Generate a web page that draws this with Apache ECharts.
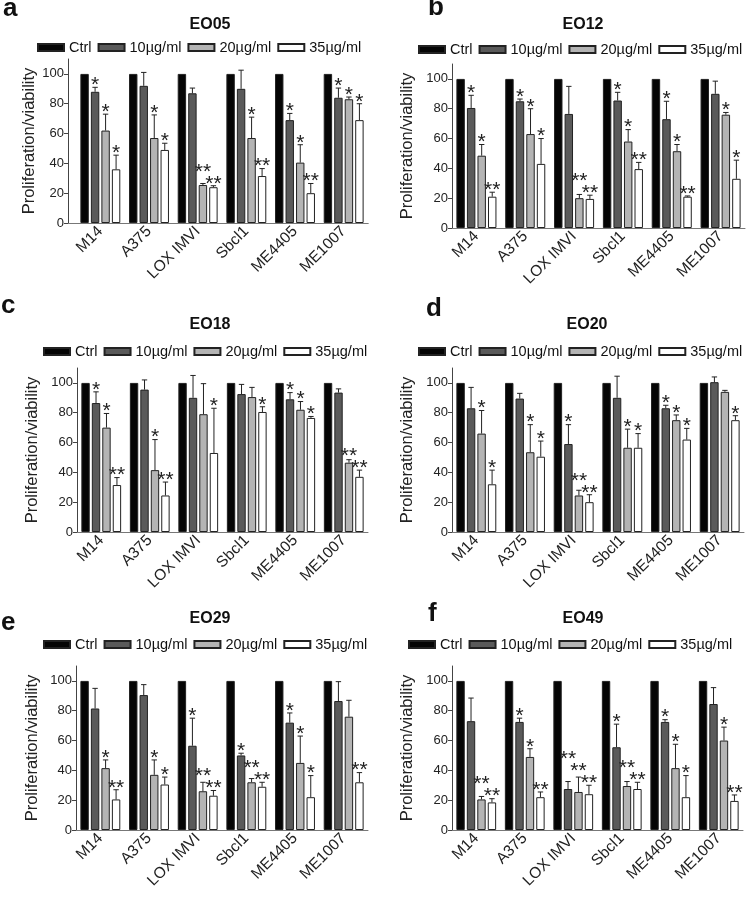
<!DOCTYPE html>
<html>
<head>
<meta charset="utf-8">
<script src="https://cdn.jsdelivr.net/npm/echarts@6/dist/echarts.min.js"></script>
<style>
  html, body { margin: 0; padding: 0; background: #fff; }
  #chart { width: 750px; height: 897px; }
</style>
</head>
<body>
<div id="chart"></div>
<script>
var categories = ['M14', 'A375', 'LOX IMVI', 'Sbcl1', 'ME4405', 'ME1007'];
var groups = ['Ctrl', '10µg/ml', '20µg/ml', '35µg/ml'];
var panelTitles = ['EO05', 'EO12', 'EO18', 'EO20', 'EO29', 'EO49'];
var panelLetters = ['a', 'b', 'c', 'd', 'e', 'f'];
var yTicks = [0, 20, 40, 60, 80, 100];

var ctrl = [100, 100, 100, 100, 100, 100];

// EO05
var eo05_10 = [88, 92, 87, 90, 69, 84];
var eo05_20 = [62, 57, 25.5, 57, 40.5, 83];
var eo05_35 = [36, 49, 24, 31.5, 20, 69];
var eo05_sd10 = [3, 9, 3.5, 12.5, 4.5, 6.5];
var eo05_sd20 = [11, 15.5, 1, 14, 12, 1.5];
var eo05_sd35 = [9.5, 4.5, 1, 5, 6.5, 11];
var eo05_star10 = ['*', '', '', '', '*', '*'];
var eo05_star20 = ['*', '*', '**', '*', '*', '*'];
var eo05_star35 = ['*', '*', '**', '**', '**', '*'];

// EO12
var eo12_10 = [80.5, 85, 76.5, 85.5, 73, 90];
var eo12_20 = [48.5, 63, 20, 58, 51.5, 76];
var eo12_35 = [21, 43, 19.5, 39.5, 21, 33];
var eo12_sd10 = [8.5, 1.5, 18.5, 5.5, 12, 8.5];
var eo12_sd20 = [7.5, 17, 2.5, 8, 4.5, 1.5];
var eo12_sd35 = [3, 17, 2.5, 4.5, 0.5, 12.5];
var eo12_star10 = ['*', '*', '', '*', '*', ''];
var eo12_star20 = ['*', '*', '**', '*', '*', '*'];
var eo12_star35 = ['**', '*', '**', '**', '**', '*'];

// EO18
var eo18_10 = [86.5, 95.5, 90, 92.5, 89, 93.5];
var eo18_20 = [70, 41.5, 79, 90.5, 82, 46.5];
var eo18_35 = [31.5, 24.5, 53, 80.5, 76.5, 37];
var eo18_sd10 = [7.5, 6.5, 15, 6.5, 4.5, 2.5];
var eo18_sd20 = [9.5, 20.5, 20.5, 6.5, 5.5, 2];
var eo18_sd35 = [5, 9, 30, 3.5, 1, 4.5];
var eo18_star10 = ['*', '', '', '', '*', ''];
var eo18_star20 = ['*', '*', '', '', '*', '**'];
var eo18_star35 = ['**', '**', '*', '*', '*', '**'];

// EO20
var eo20_10 = [83, 89.5, 59, 90, 83, 100.5];
var eo20_20 = [66, 53.5, 24.5, 56.5, 75, 94];
var eo20_35 = [32, 50.5, 20, 56.5, 62, 75];
var eo20_sd10 = [14, 3.5, 13, 14.5, 2, 3.5];
var eo20_sd20 = [15.5, 18.5, 3.5, 12.5, 3.5, 1];
var eo20_sd35 = [9.5, 10.5, 5, 9.5, 7.5, 3];
var eo20_star10 = ['', '', '*', '', '*', ''];
var eo20_star20 = ['*', '*', '**', '*', '*', ''];
var eo20_star35 = ['*', '*', '**', '*', '*', '*'];

// EO29
var eo29_10 = [81.5, 90.5, 56.5, 50, 72, 86.5];
var eo29_20 = [41.5, 37, 26, 32, 45, 76];
var eo29_35 = [20.5, 30.5, 23, 29, 22, 32];
var eo29_sd10 = [13.5, 7, 18.5, 1.5, 6.5, 13];
var eo29_sd20 = [5.5, 10, 6, 2.5, 18, 11];
var eo29_sd35 = [6.5, 5, 3.5, 3, 14.5, 6.5];
var eo29_star10 = ['', '', '*', '*', '*', ''];
var eo29_star20 = ['*', '*', '**', '**', '*', ''];
var eo29_star35 = ['**', '*', '**', '**', '*', '**'];

// EO49
var eo49_10 = [73, 72.5, 27.5, 55.5, 72.5, 84.5];
var eo49_20 = [20.5, 49, 25.5, 29.5, 41.5, 60];
var eo49_35 = [18.5, 22, 24, 27.5, 22, 19.5];
var eo49_sd10 = [15.5, 2.5, 5, 15.5, 1.5, 11];
var eo49_sd20 = [2, 5.5, 10, 3, 16, 9];
var eo49_sd35 = [2.5, 3.5, 6, 4.5, 14.5, 4];
var eo49_star10 = ['', '*', '**', '*', '*', ''];
var eo49_star20 = ['**', '*', '**', '**', '*', '*'];
var eo49_star35 = ['**', '**', '**', '**', '*', '**'];

var panels = [
    {means: [ctrl, eo05_10, eo05_20, eo05_35], sds: [null, eo05_sd10, eo05_sd20, eo05_sd35], stars: [null, eo05_star10, eo05_star20, eo05_star35]},
    {means: [ctrl, eo12_10, eo12_20, eo12_35], sds: [null, eo12_sd10, eo12_sd20, eo12_sd35], stars: [null, eo12_star10, eo12_star20, eo12_star35]},
    {means: [ctrl, eo18_10, eo18_20, eo18_35], sds: [null, eo18_sd10, eo18_sd20, eo18_sd35], stars: [null, eo18_star10, eo18_star20, eo18_star35]},
    {means: [ctrl, eo20_10, eo20_20, eo20_35], sds: [null, eo20_sd10, eo20_sd20, eo20_sd35], stars: [null, eo20_star10, eo20_star20, eo20_star35]},
    {means: [ctrl, eo29_10, eo29_20, eo29_35], sds: [null, eo29_sd10, eo29_sd20, eo29_sd35], stars: [null, eo29_star10, eo29_star20, eo29_star35]},
    {means: [ctrl, eo49_10, eo49_20, eo49_35], sds: [null, eo49_sd10, eo49_sd20, eo49_sd35], stars: [null, eo49_star10, eo49_star20, eo49_star35]}
];

// layout: [left, top, width, height] of each plot, plus legend / title / letter spots
var boxes = [[76, 59, 292, 164], [452, 64, 293, 164], [77, 368, 291, 164], [452, 368, 292, 164], [76, 666, 292, 164], [452, 666, 291, 164]];
var yOffsets = [8, 0, 0, 0, 0, 0];
var legendPos = [[37, 40], [418, 42], [43, 344], [418, 344], [43, 637], [408, 637]];
var titlePos = [[210, 17], [583, 17], [210, 317], [587, 317], [210, 611], [583, 611]];
var letterPos = [[3, -4], [428, -5], [1, 293], [426, 296], [1, 610], [428, 601]];

var FONT = 'Liberation Sans, Arial, sans-serif';
var barColors = ['#050505', '#5a5a5a', '#b4b4b4', '#ffffff'];
var CAT_GAP = 0.18, BAR_GAP = 0.25;
var STAR_LIFT = 12;

var makeErrRender = function(rows){
    // a star that would bump into the star of its right neighbour goes above it
    var starY = function(row, api){
        var y = api.coord([row.cat, row.top])[1] - 2;
        var nb = row.next;
        if (nb && nb.star && (nb.star.length > 1 || row.star.length > 1)) {
            y = Math.min(y, starY(nb, api) - STAR_LIFT);
        }
        return y;
    };
    return function(params, api){
        var r = rows[params.dataIndex];
        var base = api.coord([r.cat, r.val]);
        var top = api.coord([r.cat, r.top]);
        var band = api.size([1, 0])[0];
        var barW = band * (1 - CAT_GAP) / (4 + 3 * BAR_GAP);
        var x = base[0] + (r.g - 1.5) * barW * (1 + BAR_GAP);
        var cap = barW * 0.32;
        var style = {stroke: '#222', lineWidth: 1};
        var children = [
            {type: 'line', shape: {x1: x, y1: base[1], x2: x, y2: top[1]}, style: style},
            {type: 'line', shape: {x1: x - cap, y1: top[1], x2: x + cap, y2: top[1]}, style: style}
        ];
        if (r.star) {
            children.push({type: 'text', style: {x: x, y: starY(r, api), text: r.star, fontSize: 21, fontFamily: FONT, fill: '#222', align: 'center', verticalAlign: 'middle'}});
        }
        return {type: 'group', children: children};
    };
};

var option = {
    backgroundColor: '#fff',
    animation: false,
    title: [], legend: [], grid: [], xAxis: [], yAxis: [], series: []
};

for (var p = 0; p < 6; p++) {
    var b = boxes[p];
    var panel = panels[p];
    option.grid.push({left: b[0], top: b[1], width: b[2], height: b[3]});
    option.xAxis.push({
        type: 'category', gridIndex: p, data: categories,
        axisLine: {lineStyle: {color: '#777', width: 1}},
        axisTick: {alignWithLabel: true, length: 5, lineStyle: {color: '#777'}},
        axisLabel: {rotate: 45, interval: 0, fontSize: 15.5, color: '#222', fontFamily: FONT, margin: 6}
    });
    option.yAxis.push({
        type: 'value', gridIndex: p, min: 0, max: 110, interval: 20, offset: yOffsets[p],
        name: 'Proliferation/viability', nameLocation: 'middle',
        nameGap: p % 2 === 0 ? 27 + (b[0] - yOffsets[p] - 68) : 36,
        nameTextStyle: {fontSize: 16.5, color: '#222', fontFamily: FONT},
        splitLine: {show: false},
        axisLine: {show: true, lineStyle: {color: '#444', width: 1}},
        axisTick: {show: true, length: 4, customValues: yTicks, lineStyle: {color: '#444'}},
        axisLabel: {customValues: yTicks, fontSize: 13, color: '#222', fontFamily: FONT, margin: 4}
    });
    for (var g = 0; g < 4; g++) {
        option.series.push({
            type: 'bar', name: groups[g], xAxisIndex: p, yAxisIndex: p,
            data: panel.means[g], barCategoryGap: (CAT_GAP * 100) + '%', barGap: (BAR_GAP * 100) + '%',
            itemStyle: {color: barColors[g], borderColor: '#222', borderWidth: 1}
        });
    }
    var rows = [];
    var byCat = [];
    for (var g2 = 1; g2 < 4; g2++) {
        for (var c = 0; c < categories.length; c++) {
            var v = panel.means[g2][c];
            var row = {cat: c, g: g2, val: v, top: v + panel.sds[g2][c], star: panel.stars[g2][c]};
            rows.push(row);
            byCat[c] = byCat[c] || [];
            byCat[c][g2] = row;
        }
    }
    byCat.forEach(function(list){
        list[1].next = list[2];
        list[2].next = list[3];
    });
    option.series.push({
        type: 'custom', name: 'err' + p, xAxisIndex: p, yAxisIndex: p, z: 5,
        renderItem: makeErrRender(rows),
        encode: {x: 0, y: [1, 2]},
        data: rows.map(function(r){ return [r.cat, r.val, r.top]; })
    });
    option.legend.push({
        data: groups, left: legendPos[p][0], top: legendPos[p][1], icon: 'rect', padding: 0,
        itemWidth: 26, itemHeight: 7, itemGap: 6, selectedMode: false,
        textStyle: {fontSize: 14.5, color: '#111', fontFamily: FONT}
    });
    option.title.push({
        text: panelTitles[p], left: titlePos[p][0], top: titlePos[p][1], textAlign: 'center', padding: 0,
        textStyle: {fontSize: 16, fontWeight: 'bold', color: '#111', fontFamily: FONT}
    });
    option.title.push({
        text: panelLetters[p], left: letterPos[p][0], top: letterPos[p][1], padding: 0,
        textStyle: {fontSize: 26, fontWeight: 'bold', color: '#111', fontFamily: FONT}
    });
}

// panel a: its axis line starts a little left of the first bar group
option.grid.push({left: 68, top: 59, width: 300, height: 164});
option.xAxis.push({type: 'value', gridIndex: 6, min: 0, max: 1, axisLine: {show: true, lineStyle: {color: '#777'}}, axisTick: {show: false}, axisLabel: {show: false}, splitLine: {show: false}});
option.yAxis.push({type: 'value', gridIndex: 6, show: false, min: 0, max: 1});

var myChart = echarts.init(document.getElementById('chart'));
myChart.setOption(option);
</script>
</body>
</html>
